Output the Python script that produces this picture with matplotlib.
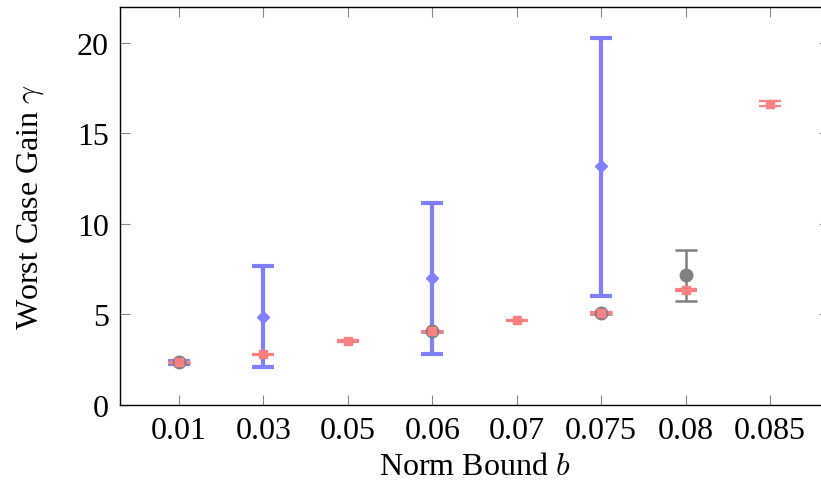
import numpy as np
import matplotlib.pyplot as plt

plt.rcParams['font.family'] = ['Liberation Serif', 'DejaVu Serif']
plt.rcParams['mathtext.fontset'] = 'cm'

# categories on the x axis
bounds = ['0.01', '0.03', '0.05', '0.06', '0.07', '0.075', '0.08', '0.085']

# blue series (diamonds): category, value, lower, upper
blue_cat = ['0.01', '0.03', '0.06', '0.075']
blue_val = [2.35, 4.88, 6.99, 13.17]
blue_lo = [2.25, 2.10, 2.80, 6.03]
blue_hi = [2.45, 7.69, 11.17, 20.26]

# gray series (circles)
gray_cat = ['0.01', '0.06', '0.075', '0.08']
gray_val = [2.35, 4.06, 5.07, 7.17]
gray_lo = [2.30, 4.01, 5.02, 5.76]
gray_hi = [2.40, 4.11, 5.12, 8.55]

# red series (squares)
red_cat = ['0.01', '0.03', '0.05', '0.06', '0.07', '0.075', '0.08', '0.085']
red_val = [2.35, 2.80, 3.53, 4.06, 4.67, 5.07, 6.34, 16.64]
red_err = [0.04, 0.04, 0.04, 0.04, 0.04, 0.04, 0.04, 0.13]

blue_c = '#8080ff'
gray_c = '#808080'
red_c = '#ff8080'

fig = plt.figure(figsize=(8.21, 4.85), dpi=100)
ax = fig.add_axes([120 / 821, 79 / 485, 709 / 821, 398.5 / 485])

pos = {b: i for i, b in enumerate(bounds)}


def draw(cats, vals, lo, hi, color, marker, ms, lw):
    x = [pos[c] for c in cats]
    v = np.array(vals)
    yerr = [v - np.array(lo), np.array(hi) - v]
    ax.errorbar(x, v, yerr=yerr, fmt=marker, color=color, ms=ms, elinewidth=lw,
                capsize=8, capthick=lw, mec=color, mfc=color, clip_on=False)


draw(blue_cat, blue_val, blue_lo, blue_hi, blue_c, 'D', 6, 3.0)
draw(gray_cat, gray_val, gray_lo, gray_hi, gray_c, 'o', 9, 1.8)
rv = np.array(red_val)
draw(red_cat, red_val, rv - np.array(red_err), rv + np.array(red_err), red_c, 's', 6, 1.6)

ax.set_xlim(-0.7, 7.7)
ax.set_ylim(0, 22)
ax.set_xticks(range(len(bounds)))
ax.set_xticklabels(bounds)
ax.set_yticks([0, 5, 10, 15, 20])

ax.tick_params(direction='in', length=7, width=0.8, color='#888888',
               labelsize=23, top=True, right=True, pad=8)
for s in ax.spines.values():
    s.set_linewidth(1.0)

ax.set_xlabel('Norm Bound $b$', fontsize=23, labelpad=5)
ax.set_ylabel(r'Worst Case Gain $\gamma$', fontsize=23, labelpad=22)

fig.savefig('out.png', dpi=100)
